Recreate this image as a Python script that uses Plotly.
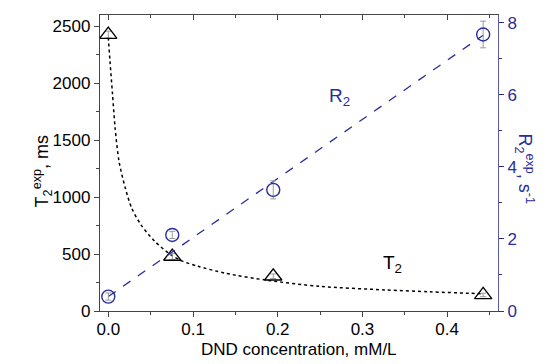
import plotly.graph_objects as go

# Data
conc = [0.0, 0.0755, 0.1947, 0.4425]
t2_exp = [2425, 478, 305, 141]
t2_err = [30, 25, 20, 15]
r2_exp = [0.40, 2.11, 3.36, 7.67]
r2_err = [0.10, 0.10, 0.25, 0.37]

# dotted T2 fit curve
fit_conc = [0.0, 0.002, 0.005, 0.008, 0.0126, 0.02, 0.0275, 0.0386, 0.055, 0.074,
            0.0865, 0.106, 0.138, 0.189, 0.25, 0.3265, 0.38, 0.425, 0.44]
fit_t2 = [2400, 2190, 1900, 1610, 1315, 1080, 905, 756, 610, 492,
          440, 392, 332, 268, 216, 185, 168, 156, 152]

# dashed R2 linear fit, end points
lin_conc = [0.0, 0.4425]
lin_r2 = [0.40, 7.65]

x_ticks = [0.0, 0.1, 0.2, 0.3, 0.4]
y_ticks = [0, 500, 1000, 1500, 2000, 2500]
y2_ticks = [0, 2, 4, 6, 8]

BLUE = "#2a2c9c"
GREY = "#9a9a9a"
FONT = "Liberation Sans, Arial, sans-serif"

fig = go.Figure()

fig.add_trace(go.Scatter(x=fit_conc, y=fit_t2, mode="lines",
                         line=dict(color="black", width=1.5, dash="dot", shape="spline", smoothing=0.8),
                         hoverinfo="skip", showlegend=False))
fig.add_trace(go.Scatter(x=lin_conc, y=lin_r2, yaxis="y2", mode="lines",
                         line=dict(color=BLUE, width=1.3, dash="dash"), showlegend=False))
fig.add_trace(go.Scatter(x=conc, y=t2_exp, mode="markers",
                         marker=dict(symbol="triangle-up-open", size=15, color="black", line=dict(width=1.3)),
                         error_y=dict(type="data", array=t2_err, color=GREY, thickness=1, width=3),
                         showlegend=False))
fig.add_trace(go.Scatter(x=conc, y=r2_exp, yaxis="y2", mode="markers",
                         marker=dict(symbol="circle-open", size=13, color=BLUE, line=dict(width=1.4)),
                         error_y=dict(type="data", array=r2_err, color=GREY, thickness=1, width=3),
                         showlegend=False))
# invisible trace for top axis
fig.add_trace(go.Scatter(x=[0.0], y=[0], xaxis="x2", mode="markers", marker=dict(opacity=0),
                         showlegend=False, hoverinfo="skip"))

fig.update_layout(
    width=550, height=364,
    margin=dict(l=92, r=60, t=7, b=61),
    paper_bgcolor="white", plot_bgcolor="white",
    font=dict(family=FONT, size=17, color="black"),
    xaxis=dict(range=[-0.0098, 0.46], tickvals=x_ticks, ticktext=["0.0", "0.1", "0.2", "0.3", "0.4"],
               ticks="outside", ticklen=5, tickcolor="#444", showline=True, linecolor="#444", linewidth=1.3,
               showgrid=False, zeroline=False, ticklabelstandoff=-3,
               minor=dict(ticks="outside", dtick=0.05, tick0=0, ticklen=3, tickcolor="#444")),
    xaxis2=dict(range=[-0.0098, 0.46], overlaying="x", side="top", anchor="y", tickvals=x_ticks,
                showticklabels=False, ticks="inside", ticklen=5, tickcolor="#444", showline=True,
                linecolor="#444", linewidth=1.3, showgrid=False, zeroline=False,
                minor=dict(ticks="inside", dtick=0.05, tick0=0, ticklen=3, tickcolor="#444")),
    yaxis=dict(range=[0, 2597], tickvals=y_ticks, ticks="outside", ticklen=5, tickcolor="#444",
               showline=True, linecolor="#444", linewidth=1.3, showgrid=False, zeroline=False,
               minor=dict(ticks="outside", dtick=250, tick0=0, ticklen=3, tickcolor="#444")),
    yaxis2=dict(range=[0, 8.21], overlaying="y", side="right", tickvals=y2_ticks, ticks="outside", ticklen=5,
                tickcolor=BLUE, showline=True, linecolor="#5a5aa8", linewidth=1.3, showgrid=False, zeroline=False,
                tickfont=dict(color=BLUE),
                minor=dict(ticks="outside", dtick=1, tick0=0, ticklen=3, tickcolor=BLUE)),
    annotations=[
        dict(text="DND concentration, mM/L", xref="paper", yref="paper", x=0.5, y=0, yanchor="middle",
             yshift=-38, showarrow=False, font=dict(size=17, color="black")),
        dict(text="T<sub>2</sub><sup>exp</sup>, ms", xref="paper", yref="paper", x=0, y=0.47,
             xshift=-72, textangle=-90, showarrow=False, font=dict(size=18, color="black")),
        dict(text="R<sub>2</sub><sup>exp</sup>, s<sup>-1</sup>", xref="paper", yref="paper", x=1, y=0.48,
             xshift=41, textangle=90, showarrow=False, font=dict(size=18, color=BLUE)),
        dict(text="R<sub>2</sub>", x=0.2726, y=5.94, xref="x", yref="y2", showarrow=False,
             font=dict(size=19, color=BLUE)),
        dict(text="T<sub>2</sub>", x=0.336, y=411, xref="x", yref="y", showarrow=False,
             font=dict(size=19, color="black")),
    ],
)

fig.write_html("out.html")
